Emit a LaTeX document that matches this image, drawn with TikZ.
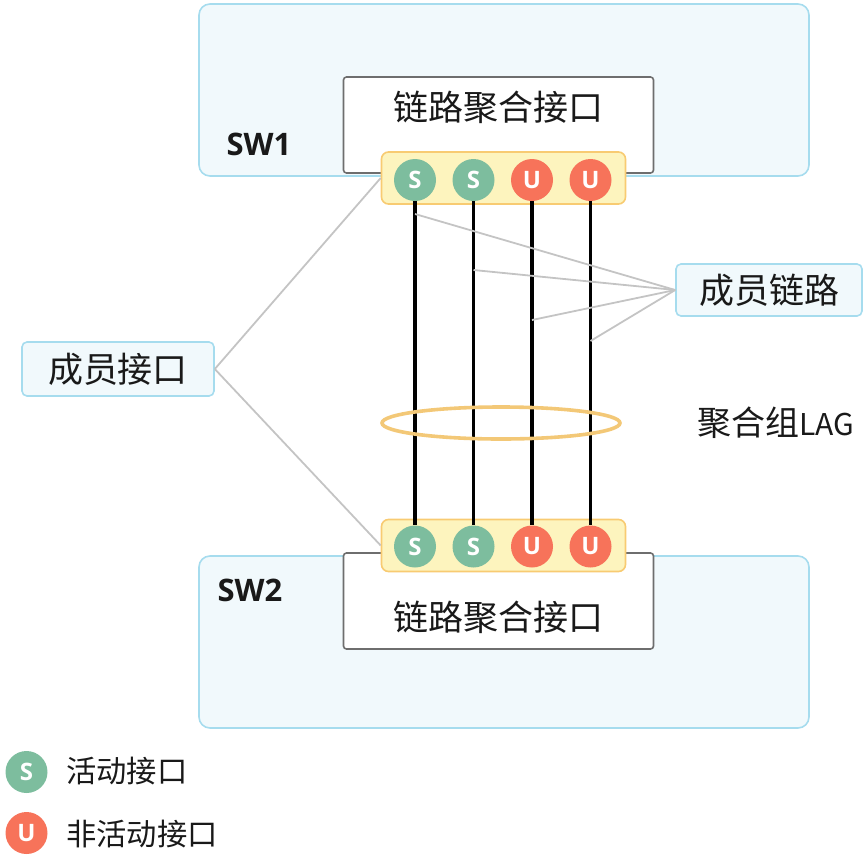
\documentclass[tikz,border=0pt]{standalone}
\usepackage{fontspec}
\usetikzlibrary{shapes.geometric}
\setmainfont{Open Sans}
\newfontfamily\cjk{Noto Sans CJK SC}
\definecolor{swfill}{HTML}{F1F9FC}
\definecolor{swline}{HTML}{A6DCEE}
\definecolor{boxline}{HTML}{6E6E6E}
\definecolor{barfill}{HTML}{FDF4BE}
\definecolor{barline}{HTML}{F8CB72}
\definecolor{sgreen}{HTML}{7DBD9E}
\definecolor{ured}{HTML}{F7735A}
\definecolor{leadgray}{HTML}{C4C4C4}
\definecolor{ringcol}{HTML}{F3C877}
\tikzset{
  swbox/.style={draw=swline,fill=swfill,line width=1.6pt,rounded corners=11pt,minimum width=610pt,minimum height=172pt,inner sep=0pt},
  ifbox/.style={draw=boxline,fill=white,line width=1.6pt,rounded corners=3pt,minimum width=310pt,minimum height=96pt,inner sep=0pt},
  portbar/.style={draw=barline,fill=barfill,line width=1.6pt,rounded corners=7pt,minimum width=244pt,minimum height=52pt,inner sep=0pt},
  tagbox/.style={draw=swline,fill=swfill,line width=1.6pt,rounded corners=5pt,inner sep=0pt},
  portS/.style={circle,fill=sgreen,minimum size=42pt,inner sep=0pt,text=white,font=\fontsize{24}{24}\bfseries\selectfont},
  portU/.style={circle,fill=ured,minimum size=42pt,inner sep=0pt,text=white,font=\fontsize{24}{24}\bfseries\selectfont},
  link/.style={line width=3.4pt,black},
  leader/.style={line width=1.8pt,draw=leadgray},
  big/.style={font=\cjk\fontsize{35}{35}\selectfont,text=black!90,inner sep=0pt},
  mid/.style={font=\cjk\fontsize{30.3}{31}\selectfont,text=black!90,inner sep=0pt},
  swlabel/.style={font=\fontsize{31}{31}\bfseries\selectfont,text=black!90,inner sep=0pt},
}
\begin{document}
\begin{tikzpicture}[x=1pt,y=-1pt]
\useasboundingbox (0,0) rectangle (868,860);
% switches
\node[swbox] (sw1) at (504,90) {};
\node[swbox] (sw2) at (504,642) {};
\node[swlabel] (sw1t) at (259,144) {SW1};
\node[swlabel] (sw2t) at (250,590) {SW2};
\node[ifbox] (if1) at (498.5,125) {};
\node[ifbox] (if2) at (498.5,601) {};
\node[big] (if1t) at (498.5,107) {链路聚合接口};
\node[big] (if2t) at (498.5,617) {链路聚合接口};
% port bars
\node[portbar] (bar1) at (503.5,178) {};
\node[portbar] (bar2) at (503.5,545.5) {};
% ports
\node[portS] (a1) at (415,180) {S};
\node[portS] (a2) at (473.5,180) {S};
\node[portU] (a3) at (532,180) {U};
\node[portU] (a4) at (590.5,180) {U};
\node[portS] (b1) at (415,546.5) {S};
\node[portS] (b2) at (473.5,546.5) {S};
\node[portU] (b3) at (532,546.5) {U};
\node[portU] (b4) at (590.5,546.5) {U};
% links
\draw[link] (a1) -- (b1);
\draw[link] (a2) -- (b2);
\draw[link] (a3) -- (b3);
\draw[link] (a4) -- (b4);
% LAG ring
\node[draw=ringcol,line width=3.6pt,ellipse,minimum width=238pt,minimum height=32pt,inner sep=0pt] (lag) at (501,423) {};
\node[font=\cjk\fontsize{34}{34}\selectfont,text=black!90,inner sep=0pt,anchor=west] (lagt) at (697,423) {聚合组{\fontsize{30}{30}\selectfont LAG}};
% tags
\node[tagbox,minimum width=192pt,minimum height=54pt] (mp) at (118,369) {};
\node[big] (mpt) at (118,369) {成员接口};
\node[tagbox,minimum width=186pt,minimum height=52pt] (ml) at (769,290) {};
\node[big] (mlt) at (769,290) {成员链路};
% leaders
\coordinate (l1) at (415,214);
\coordinate (l2) at (473.5,270);
\coordinate (l3) at (532,320);
\coordinate (l4) at (590.5,341);
\draw[leader] (ml.west) -- (l1);
\draw[leader] (ml.west) -- (l2);
\draw[leader] (ml.west) -- (l3);
\draw[leader] (ml.west) -- (l4);
\draw[leader] (mp.east) -- (bar1.west);
\draw[leader] (mp.east) -- (bar2.west);
% legend
\node[portS] (ls) at (26.5,772) {S};
\node[portU] (lu) at (26.5,833) {U};
\node[mid,anchor=west] (lst) at (66,771) {活动接口};
\node[mid,anchor=west] (lut) at (66,834) {非活动接口};
\end{tikzpicture}
\end{document}
